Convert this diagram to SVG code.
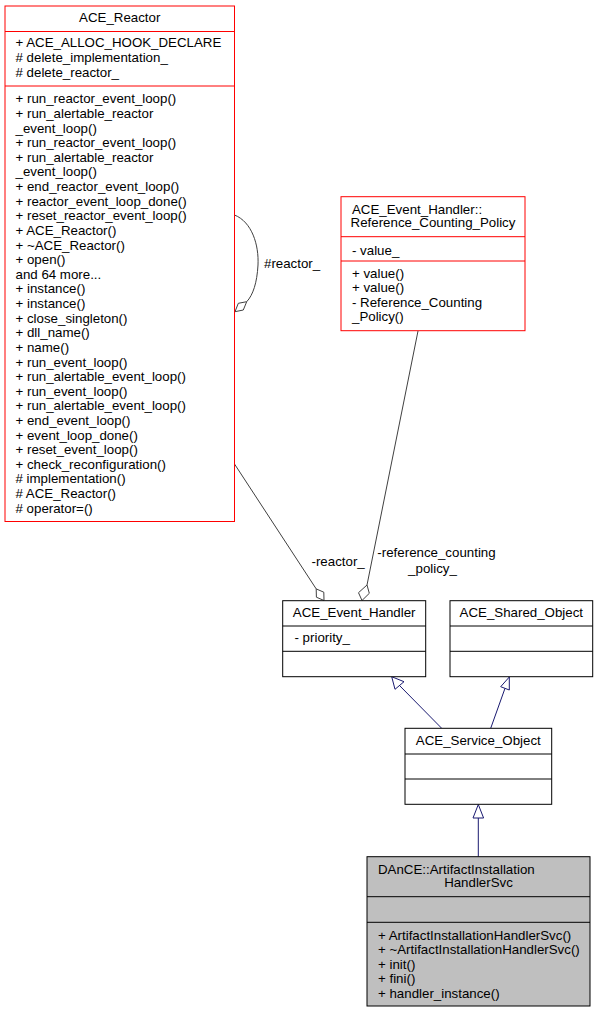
<svg xmlns="http://www.w3.org/2000/svg" width="597" height="1013" viewBox="0 0 597 1013">
<style>
text{font-family:"Liberation Sans",Arial,Helvetica,sans-serif;font-size:13.3px;fill:#000}
.mid{text-anchor:middle}
.red{fill:#fff;stroke:#ff0000;stroke-width:1}
.blk{fill:#fff;stroke:#000;stroke-width:1}
.cur{fill:#bfbfbf;stroke:#000;stroke-width:1}
.sr{stroke:#ff0000;stroke-width:1}
.sb{stroke:#000;stroke-width:1}
.agg{fill:none;stroke:#404040;stroke-width:1}
.dia{fill:#fff;stroke:#404040;stroke-width:1}
.inh{fill:none;stroke:#191970;stroke-width:1}
.tri{fill:#fff;stroke:#191970;stroke-width:1}
</style>
<rect width="597" height="1013" fill="#fff"/>
<g id="connectors">
<path class="agg" d="M234.5,215 C252,222 259,245 258,265 C257,283 253,295 246.7,301.7"/>
<polygon class="dia" points="246.7,301.7 238.3,303.3 235,311.7 243.3,310"/>
<text x="264" y="268">#reactor_</text>
<path class="agg" d="M234.5,464 L316.2,588.9"/>
<polygon class="dia" points="316.2,588.9 323.8,592.2 324,600.5 316.4,597.2"/>
<text x="311.5" y="565.5">-reactor_</text>
<path class="agg" d="M418,331 L367,585"/>
<polygon class="dia" points="367,585 369.3,593.3 362,600.5 358.5,592.7"/>
<text class="mid" x="436.5" y="557">-reference_counting</text>
<text class="mid" x="432.5" y="572.5">_policy_</text>
<path class="inh" d="M441.7,728.3 L399.5,685.5"/>
<polygon class="tri" points="391.7,676.7 395,689.3 404,681.7"/>
<path class="inh" d="M490.7,728.3 L505,688.3"/>
<polygon class="tri" points="509.3,677 500.7,686.7 509.3,690"/>
<path class="inh" d="M478.3,856.7 L478.3,818"/>
<polygon class="tri" points="478.3,804.5 473,818 483.6,818"/>
</g>
<g id="ACE_Reactor">
<rect class="red" x="5" y="6" width="229.5" height="515.5"/>
<line class="sr" x1="5" y1="31.5" x2="234.5" y2="31.5"/>
<line class="sr" x1="5" y1="86" x2="234.5" y2="86"/>
<text class="mid" x="119.7" y="22">ACE_Reactor</text>
<text x="15.5" y="47">+ ACE_ALLOC_HOOK_DECLARE</text>
<text x="15.5" y="62"># delete_implementation_</text>
<text x="15.5" y="77"># delete_reactor_</text>
<text x="15.5" y="103.3">+ run_reactor_event_loop()</text>
<text x="15.5" y="117.9">+ run_alertable_reactor</text>
<text x="15.5" y="132.5">_event_loop()</text>
<text x="15.5" y="147.2">+ run_reactor_event_loop()</text>
<text x="15.5" y="161.8">+ run_alertable_reactor</text>
<text x="15.5" y="176.4">_event_loop()</text>
<text x="15.5" y="191">+ end_reactor_event_loop()</text>
<text x="15.5" y="205.6">+ reactor_event_loop_done()</text>
<text x="15.5" y="220.3">+ reset_reactor_event_loop()</text>
<text x="15.5" y="234.9">+ ACE_Reactor()</text>
<text x="15.5" y="249.5">+ ~ACE_Reactor()</text>
<text x="15.5" y="264.1">+ open()</text>
<text x="15.5" y="278.7">and 64 more...</text>
<text x="15.5" y="293.4">+ instance()</text>
<text x="15.5" y="308">+ instance()</text>
<text x="15.5" y="322.6">+ close_singleton()</text>
<text x="15.5" y="337.2">+ dll_name()</text>
<text x="15.5" y="351.8">+ name()</text>
<text x="15.5" y="366.5">+ run_event_loop()</text>
<text x="15.5" y="381.1">+ run_alertable_event_loop()</text>
<text x="15.5" y="395.7">+ run_event_loop()</text>
<text x="15.5" y="410.3">+ run_alertable_event_loop()</text>
<text x="15.5" y="424.9">+ end_event_loop()</text>
<text x="15.5" y="439.6">+ event_loop_done()</text>
<text x="15.5" y="454.2">+ reset_event_loop()</text>
<text x="15.5" y="468.8">+ check_reconfiguration()</text>
<text x="15.5" y="483.4"># implementation()</text>
<text x="15.5" y="498"># ACE_Reactor()</text>
<text x="15.5" y="512.7"># operator=()</text>
</g>
<g id="Reference_Counting_Policy">
<rect class="red" x="341" y="196.7" width="184" height="134"/>
<line class="sr" x1="341" y1="236.7" x2="525" y2="236.7"/>
<line class="sr" x1="341" y1="261" x2="525" y2="261"/>
<text x="352" y="213.5">ACE_Event_Handler::</text>
<text class="mid" x="433" y="227">Reference_Counting_Policy</text>
<text x="352" y="254.5">- value_</text>
<text x="352" y="277.8">+ value()</text>
<text x="352" y="292.4">+ value()</text>
<text x="352" y="306.9">- Reference_Counting</text>
<text x="352" y="321.4">_Policy()</text>
</g>
<g id="ACE_Event_Handler">
<rect class="blk" x="282.7" y="600.7" width="143" height="76"/>
<line class="sb" x1="282.7" y1="626" x2="425.7" y2="626"/>
<line class="sb" x1="282.7" y1="651.3" x2="425.7" y2="651.3"/>
<text class="mid" x="354.2" y="617">ACE_Event_Handler</text>
<text x="294.5" y="642.3">- priority_</text>
</g>
<g id="ACE_Shared_Object">
<rect class="blk" x="450" y="600.7" width="142.7" height="76"/>
<line class="sb" x1="450" y1="626" x2="592.7" y2="626"/>
<line class="sb" x1="450" y1="651.3" x2="592.7" y2="651.3"/>
<text class="mid" x="521.3" y="617">ACE_Shared_Object</text>
</g>
<g id="ACE_Service_Object">
<rect class="blk" x="405" y="728.3" width="146.7" height="76"/>
<line class="sb" x1="405" y1="754" x2="551.7" y2="754"/>
<line class="sb" x1="405" y1="779" x2="551.7" y2="779"/>
<text class="mid" x="478.3" y="745.3">ACE_Service_Object</text>
</g>
<g id="ArtifactInstallationHandlerSvc">
<rect class="cur" x="367" y="856.7" width="223" height="149.3"/>
<line class="sb" x1="367" y1="896.7" x2="590" y2="896.7"/>
<line class="sb" x1="367" y1="922.3" x2="590" y2="922.3"/>
<text x="378" y="873.5">DAnCE::ArtifactInstallation</text>
<text class="mid" x="478.5" y="887.3">HandlerSvc</text>
<text x="378" y="939.5">+ ArtifactInstallationHandlerSvc()</text>
<text x="378" y="954.1">+ ~ArtifactInstallationHandlerSvc()</text>
<text x="378" y="968.7">+ init()</text>
<text x="378" y="983.3">+ fini()</text>
<text x="378" y="997.9">+ handler_instance()</text>
</g>
</svg>
